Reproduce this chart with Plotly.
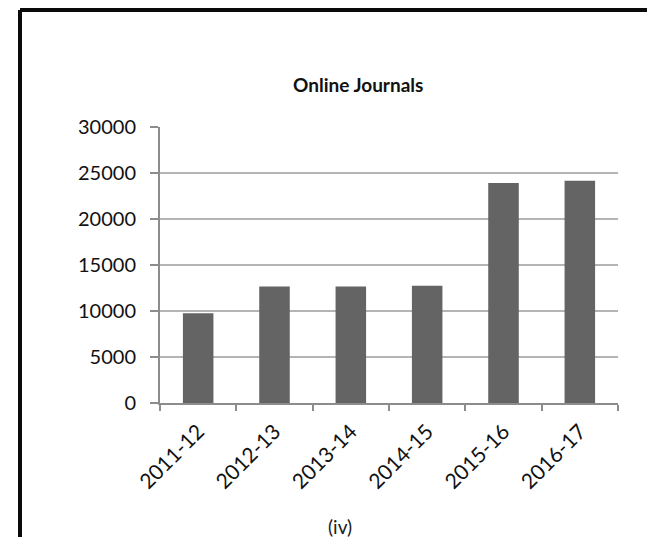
import plotly.graph_objects as go

# Online journal subscriptions per academic year
years = ["2011-12", "2012-13", "2013-14", "2014-15", "2015-16", "2016-17"]
journals = [9750, 12650, 12650, 12750, 23900, 24150]
y_ticks = [0, 5000, 10000, 15000, 20000, 25000, 30000]

W, H = 647, 537
L, R, T, B = 160, 29, 127, 134
plot_w = W - L - R
plot_h = H - T - B


def px_to_paper(x, y):
    return (x - L) / plot_w, (H - B - y) / plot_h


fig = go.Figure(
    go.Bar(
        x=years,
        y=journals,
        marker=dict(color="#646464", line=dict(width=0)),
        width=0.4,
        hoverinfo="x+y",
    )
)

text_font = dict(family="Lato, Carlito, sans-serif", size=20, color="#111111")

fig.update_layout(
    width=W,
    height=H,
    margin=dict(l=L, r=R, t=T, b=B, pad=0),
    paper_bgcolor="white",
    plot_bgcolor="white",
    showlegend=False,
    bargap=0.6,
    font=text_font,
)

fig.update_xaxes(
    type="category",
    range=[-0.5, len(years) - 0.5],
    showgrid=False,
    showline=True,
    linecolor="#8c8c8c",
    linewidth=2,
    ticks="outside",
    tickson="boundaries",
    ticklen=6,
    tickwidth=2,
    tickcolor="#8c8c8c",
    tickangle=-45,
    tickfont=dict(family="Lato, Carlito, sans-serif", size=21, color="#111111"),
    ticklabelstandoff=6,
)

fig.update_yaxes(
    range=[0, 30000],
    tickvals=y_ticks,
    ticktext=[str(v) for v in y_ticks],
    showgrid=True,
    gridcolor="#b4b4b4",
    gridwidth=2,
    zeroline=False,
    showline=True,
    linecolor="#8c8c8c",
    linewidth=2,
    ticks="outside",
    ticklen=8,
    tickwidth=2,
    tickcolor="#8c8c8c",
    tickfont=text_font,
    ticklabelstandoff=10,
)

# Chart title and panel caption
tx, ty = px_to_paper(358, 84)
cx, cy = px_to_paper(340, 526)
fig.add_annotation(
    x=tx, y=ty, xref="paper", yref="paper", xanchor="center", yanchor="middle",
    text="<b>Online Journals</b>", showarrow=False,
    font=dict(family="Lato, Carlito, sans-serif", size=19, color="#111111"),
)
fig.add_annotation(
    x=cx, y=cy, xref="paper", yref="paper", xanchor="center", yanchor="middle",
    text="(iv)", showarrow=False,
    font=dict(family="Lato, Carlito, sans-serif", size=19, color="#1a1a1a"),
)

# Panel frame: top rule and left rule
x_left, y_top = px_to_paper(20, 10)
x_right, _ = px_to_paper(W + 5, 10)
_, y_bottom = px_to_paper(20, H + 5)
fig.add_shape(type="line", xref="paper", yref="paper",
              x0=x_left, x1=x_right, y0=y_top, y1=y_top,
              line=dict(color="#0a0a0a", width=4))
fig.add_shape(type="line", xref="paper", yref="paper",
              x0=x_left, x1=x_left, y0=y_top, y1=y_bottom,
              line=dict(color="#0a0a0a", width=4))

fig.write_html("out.html")
